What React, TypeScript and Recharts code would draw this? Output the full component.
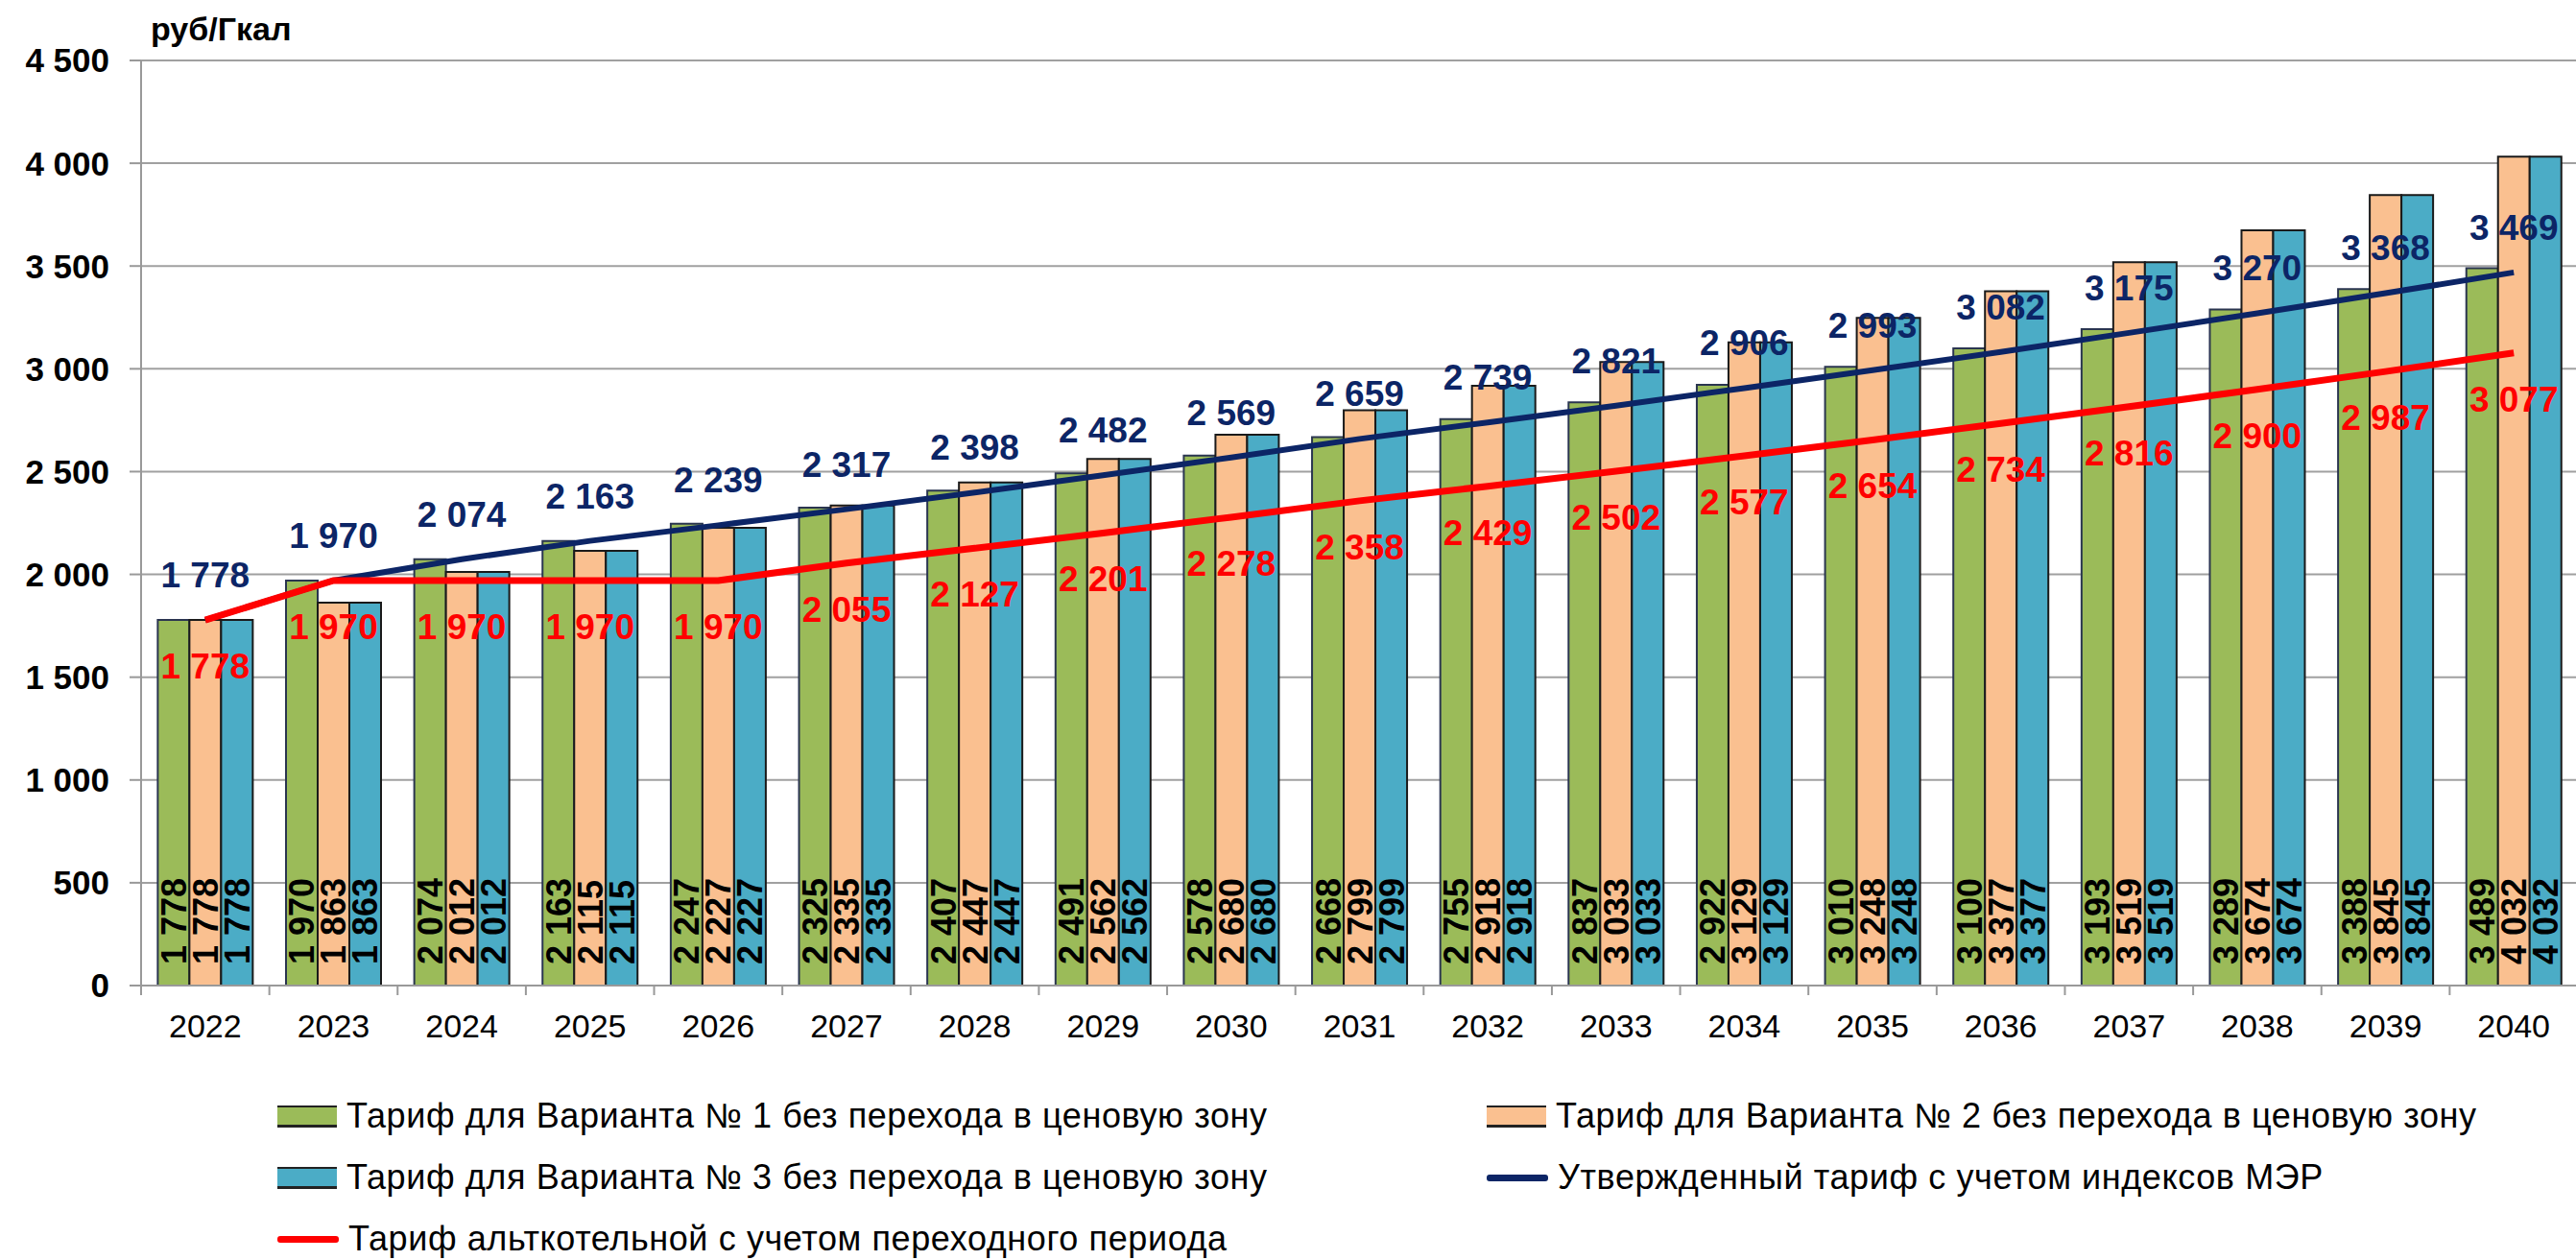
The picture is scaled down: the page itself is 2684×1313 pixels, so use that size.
import React from 'react';
import {
  ComposedChart,
  Bar,
  Line,
  XAxis,
  YAxis,
  CartesianGrid,
  LabelList,
  Legend,
} from 'recharts';

const years = ['2022', '2023', '2024', '2025', '2026', '2027', '2028', '2029', '2030', '2031', '2032', '2033', '2034', '2035', '2036', '2037', '2038', '2039', '2040'];
const variant1 = [1778, 1970, 2074, 2163, 2247, 2325, 2407, 2491, 2578, 2668, 2755, 2837, 2922, 3010, 3100, 3193, 3289, 3388, 3489];
const variant2 = [1778, 1863, 2012, 2115, 2227, 2335, 2447, 2562, 2680, 2799, 2918, 3033, 3129, 3248, 3377, 3519, 3674, 3845, 4032];
const variant3 = [1778, 1863, 2012, 2115, 2227, 2335, 2447, 2562, 2680, 2799, 2918, 3033, 3129, 3248, 3377, 3519, 3674, 3845, 4032];
const approved = [1778, 1970, 2074, 2163, 2239, 2317, 2398, 2482, 2569, 2659, 2739, 2821, 2906, 2993, 3082, 3175, 3270, 3368, 3469];
const altBoiler = [1778, 1970, 1970, 1970, 1970, 2055, 2127, 2201, 2278, 2358, 2429, 2502, 2577, 2654, 2734, 2816, 2900, 2987, 3077];
const yTicks = [0, 500, 1000, 1500, 2000, 2500, 3000, 3500, 4000, 4500];

const seriesNames = [
  'Тариф для Варианта № 1 без перехода в ценовую зону',
  'Тариф для Варианта № 2 без перехода в ценовую зону',
  'Тариф для Варианта № 3 без перехода в ценовую зону',
  'Утвержденный тариф с учетом индексов МЭР',
  'Тариф альткотельной с учетом переходного периода',
];
const unitLabel = 'руб/Гкал';

const GREEN = '#9BBB59';
const ORANGE = '#FAC090';
const BLUE = '#4BACC6';
const NAVY = '#0c2566';
const RED = '#FF0000';
const FONT = '"Liberation Sans", Arial, sans-serif';

const data = years.map((year, i) => ({
  year,
  v1: variant1[i],
  v2: variant2[i],
  v3: variant3[i],
  approved: approved[i],
  alt: altBoiler[i],
}));

const fmt = (v: number) =>
  v >= 1000 ? `${Math.floor(v / 1000)} ${String(v % 1000).padStart(3, '0')}` : String(v);

const getBox = (props: any) => {
  const vb = props.viewBox || {};
  return {
    x: Number(props.x ?? vb.x),
    y: Number(props.y ?? vb.y),
    width: Number(props.width ?? vb.width ?? 0),
    height: Number(props.height ?? vb.height ?? 0),
  };
};

const BarInsideLabel = (props: any) => {
  const { x, y, width, height } = getBox(props);
  const cx = x + width / 2;
  const by = y + height - 22;
  return (
    <text
      x={cx}
      y={by}
      dy="0.36em"
      transform={`rotate(-90 ${cx} ${by})`}
      textAnchor="start"
      fontSize={36}
      fontWeight="bold"
      fontFamily={FONT}
      fill="#000"
    >
      {fmt(Number(props.value))}
    </text>
  );
};

const makeLineLabel = (color: string, offset: number) => (props: any) => {
  const { x, y } = getBox(props);
  return (
    <text
      x={x}
      y={y + offset}
      textAnchor="middle"
      fontSize={37}
      fontWeight="bold"
      fontFamily={FONT}
      fill={color}
    >
      {fmt(Number(props.value))}
    </text>
  );
};

const XTick = (props: any) => {
  const { x, y, payload } = props;
  const half = payload && typeof payload.offset === 'number' && payload.offset > 0 ? payload.offset : 133.6 / 2;
  return (
    <g>
      <line x1={x - half} x2={x - half} y1={y - 30} y2={y - 20} stroke="#999" strokeWidth={2} />
      <text x={x} y={y} dy="0.71em" textAnchor="middle" fontSize={34} fontFamily={FONT} fill="#000">
        {payload.value}
      </text>
    </g>
  );
};

const UnitLabel = (props: any) => {
  const vb = props.viewBox || {};
  const x = Number(vb.x) + Number(vb.width) + 10;
  const y = Number(vb.y) - 21;
  return (
    <text x={x} y={y} fontSize={34} fontWeight="bold" fontFamily={FONT} fill="#000">
      {unitLabel}
    </text>
  );
};

const legendPos = [
  { left: 289, top: 1163 },
  { left: 1549, top: 1163 },
  { left: 289, top: 1227 },
  { left: 1549, top: 1227 },
  { left: 289, top: 1291 },
];

const LegendContent = (props: any) => {
  const payload = props.payload || [];
  return (
    <div style={{ position: 'relative', width: 2684, height: 1313 }}>
      {payload.map((entry: any, i: number) => {
        const idx = seriesNames.indexOf(entry.value);
        const pos = legendPos[idx >= 0 ? idx : i] || legendPos[0];
        const isLine = entry.type === 'line';
        return (
          <div
            key={i}
            style={{
              position: 'absolute',
              left: pos.left,
              top: pos.top - 25,
              height: 50,
              display: 'flex',
              alignItems: 'center',
              whiteSpace: 'nowrap',
            }}
          >
            {isLine ? (
              <div style={{ width: 64, height: 7, background: entry.color, borderRadius: 3 }} />
            ) : (
              <div
                style={{
                  width: 62,
                  height: 18,
                  background: entry.color,
                  borderTop: '2px solid #222',
                  borderBottom: '3px solid #222',
                  boxSizing: 'content-box',
                }}
              />
            )}
            <span style={{ marginLeft: 10, fontSize: 36, letterSpacing: 0.6, fontFamily: FONT, color: '#000' }}>
              {entry.value}
            </span>
          </div>
        );
      })}
    </div>
  );
};

export default function App() {
  return (
    <div
      style={{
        position: 'absolute',
        left: 0,
        top: 0,
        width: 2684,
        height: 1313,
        overflow: 'hidden',
        background: '#fff',
      }}
    >
      <ComposedChart
        width={2690}
        height={1313}
        data={data}
        margin={{ top: 63, right: 4, bottom: 0, left: 0 }}
        barCategoryGap="13%"
        barGap={0}
      >
        <CartesianGrid vertical={false} stroke="#a0a0a0" strokeWidth={2} />
        <XAxis
          dataKey="year"
          height={286}
          axisLine={{ stroke: '#999', strokeWidth: 2 }}
          tickLine={false}
          tickSize={10}
          tickMargin={20}
          interval={0}
          tick={<XTick />}
        />
        <YAxis
          width={147}
          domain={[0, 4500]}
          ticks={yTicks}
          interval={0}
          tickFormatter={(v: number) => fmt(v)}
          axisLine={{ stroke: '#999', strokeWidth: 2 }}
          tickLine={{ stroke: '#999', strokeWidth: 2 }}
          tickSize={12}
          tickMargin={21}
          tick={{ fontSize: 35, fontWeight: 'bold', fontFamily: FONT, fill: '#000' }}
          label={{ content: <UnitLabel />, position: 'top' }}
        />
        <Bar dataKey="v1" name={seriesNames[0]} fill={GREEN} stroke="#2a3550" strokeWidth={2} isAnimationActive={false}>
          <LabelList dataKey="v1" content={<BarInsideLabel />} />
        </Bar>
        <Bar dataKey="v2" name={seriesNames[1]} fill={ORANGE} stroke="#1a1a1a" strokeWidth={2} isAnimationActive={false}>
          <LabelList dataKey="v2" content={<BarInsideLabel />} />
        </Bar>
        <Bar dataKey="v3" name={seriesNames[2]} fill={BLUE} stroke="#1a1a1a" strokeWidth={2} isAnimationActive={false}>
          <LabelList dataKey="v3" content={<BarInsideLabel />} />
        </Bar>
        <Line
          dataKey="approved"
          name={seriesNames[3]}
          type="linear"
          stroke={NAVY}
          strokeWidth={6}
          dot={false}
          activeDot={false}
          isAnimationActive={false}
        >
          <LabelList dataKey="approved" content={makeLineLabel(NAVY, -34)} />
        </Line>
        <Line
          dataKey="alt"
          name={seriesNames[4]}
          type="linear"
          stroke={RED}
          strokeWidth={7}
          dot={false}
          activeDot={false}
          isAnimationActive={false}
        >
          <LabelList dataKey="alt" content={makeLineLabel(RED, 61)} />
        </Line>
        <Legend
          layout="vertical"
          align="center"
          verticalAlign="middle"
          wrapperStyle={{ left: 0, top: 0, width: 2684, height: 1313, pointerEvents: 'none' }}
          content={<LegendContent />}
        />
      </ComposedChart>
    </div>
  );
}
